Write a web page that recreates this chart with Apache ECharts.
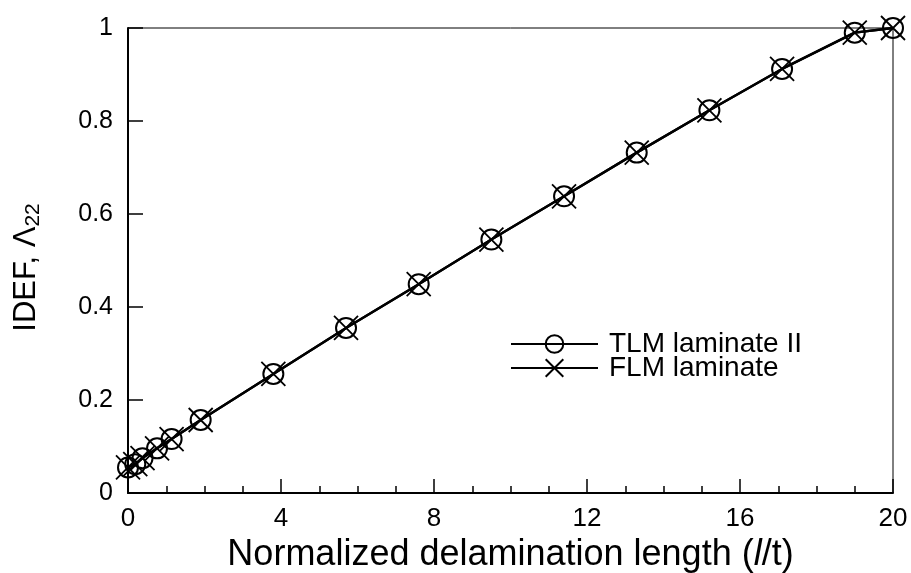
<!DOCTYPE html>
<html>
<head>
<meta charset="utf-8">
<script src="https://cdn.jsdelivr.net/npm/echarts@6/dist/echarts.min.js"></script>
<style>
  html, body { margin: 0; padding: 0; background: #fff; }
  #chart { width: 911px; height: 573px; }
</style>
</head>
<body>
<div id="chart"></div>
<script>
// normalized delamination length l/t
const xVals = [0, 0.19, 0.38, 0.76, 1.14, 1.9, 3.8, 5.7, 7.6, 9.5, 11.4, 13.3, 15.2, 17.1, 19, 20];
// IDEF for TLM laminate II
const tlmVals = [0.055, 0.062, 0.075, 0.096, 0.116, 0.157, 0.256, 0.355, 0.449, 0.545, 0.638, 0.732, 0.823, 0.912, 0.99, 1.0];
// IDEF for FLM laminate
const flmVals = [0.055, 0.062, 0.075, 0.096, 0.116, 0.157, 0.256, 0.355, 0.449, 0.545, 0.638, 0.732, 0.823, 0.912, 0.99, 1.0];
const xTicks = [0, 4, 8, 12, 16, 20];
const yTicks = [0, 0.2, 0.4, 0.6, 0.8, 1];

const FONT = 'Liberation Sans, Arial, sans-serif';
const crossPath = 'path://M0,0L10,10M10,0L0,10';

const chart = echarts.init(document.getElementById('chart'), null, { renderer: 'canvas' });

const pairs = (ys) => xVals.map((x, i) => [x, ys[i]]);

chart.setOption({
  animation: false,
  backgroundColor: '#fff',
  textStyle: { fontFamily: FONT, color: '#000' },
  grid: {
    left: 128, right: 18, top: 28, bottom: 80,
    outerBoundsMode: 'none',
    containLabel: false,
    show: true, borderColor: '#000', borderWidth: 1
  },
  legend: {
    left: 510, top: 330,
    padding: 0,
    orient: 'vertical',
    itemWidth: 87, itemHeight: 22, itemGap: -4,
    textStyle: { fontSize: 28, lineHeight: 25, fontFamily: FONT, color: '#000', padding: [0, 0, 0, 6] },
    data: ['TLM laminate II', 'FLM laminate']
  },
  xAxis: {
    type: 'value',
    min: xTicks[0], max: xTicks[xTicks.length - 1], interval: 4,
    axisLine: { lineStyle: { color: '#000', width: 2 } },
    axisTick: { inside: true, length: 14, lineStyle: { color: '#000', width: 1.5 } },
    minorTick: { show: true, splitNumber: 4, length: 7, lineStyle: { color: '#000', width: 1.5 } },
    splitLine: { show: false },
    axisLabel: { fontSize: 26, color: '#000', margin: 13, fontFamily: FONT },
    name: 'Normalized delamination length ({i|l}/t)',
    nameLocation: 'middle', nameGap: 41,
    nameTextStyle: {
      fontSize: 36, color: '#000', fontFamily: FONT,
      rich: { i: { fontSize: 36, fontStyle: 'italic', fontFamily: FONT, color: '#000' } }
    }
  },
  yAxis: {
    type: 'value',
    min: yTicks[0], max: yTicks[yTicks.length - 1], interval: 0.2,
    axisLine: { show: true, lineStyle: { color: '#000', width: 2 } },
    axisTick: { show: true, inside: true, length: 15, lineStyle: { color: '#000', width: 1.5 } },
    splitLine: { show: false },
    axisLabel: { fontSize: 25, color: '#000', margin: 15, fontFamily: FONT },
    name: 'IDEF, Λ{sub|22}',
    nameLocation: 'middle', nameGap: 84,
    nameTextStyle: {
      fontSize: 31, color: '#000', fontFamily: FONT, lineHeight: 36,
      padding: [0, 14, 0, 0],
      rich: { sub: { fontSize: 21, fontFamily: FONT, color: '#000', verticalAlign: 'bottom', lineHeight: 36, padding: [12, 0, 0, 0] } }
    }
  },
  series: [
    {
      name: 'TLM laminate II',
      type: 'line',
      data: pairs(tlmVals),
      symbol: 'circle',
      symbolSize: 20,
      showAllSymbol: true,
      lineStyle: { color: '#000', width: 2.4 },
      itemStyle: { color: 'rgba(0,0,0,0)', borderColor: '#000', borderWidth: 2 },
      emphasis: { disabled: true }
    },
    {
      name: 'FLM laminate',
      type: 'line',
      data: pairs(flmVals),
      symbol: crossPath,
      symbolSize: 24,
      showAllSymbol: true,
      lineStyle: { color: '#000', width: 2.4 },
      itemStyle: { color: 'rgba(0,0,0,0)', borderColor: '#000', borderWidth: 1.8 },
      emphasis: { disabled: true }
    }
  ]
});
</script>
</body>
</html>
